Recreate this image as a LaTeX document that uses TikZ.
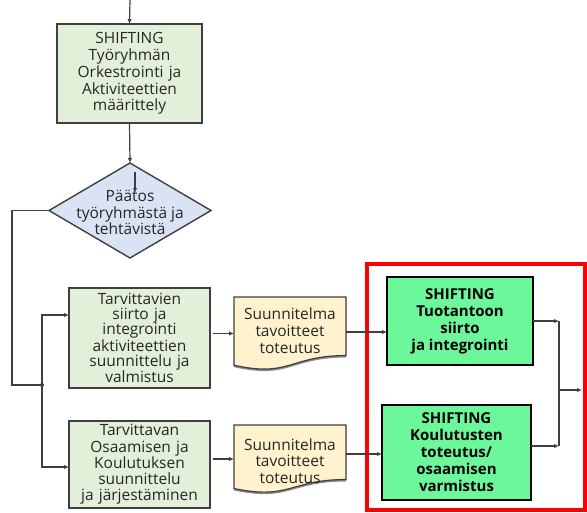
\documentclass[tikz,border=0pt]{standalone}
\usepackage{fontspec}
\setmainfont{Open Sans}
\usetikzlibrary{arrows.meta,shapes.geometric}
\definecolor{boxgreen}{HTML}{E2EFD9}
\definecolor{boxblue}{HTML}{DAE3F3}
\definecolor{docyellow}{HTML}{FFF2CC}
\definecolor{mint}{HTML}{6CF79A}
\definecolor{edgegray}{HTML}{3F3F3F}
\definecolor{framered}{HTML}{FF0000}

% document symbol with wavy lower edge: x, y (top left), width, height
\newcommand{\docpath}[4]{%
  (#1,#2) -- ({#1+#3},#2) -- ({#1+#3},{#2+0.802*#4})
  .. controls ({#1+0.5*#3},{#2+0.802*#4}) and ({#1+0.5*#3},{#2+1.107*#4}) ..
  (#1,{#2+0.934*#4}) -- cycle}

\begin{document}
\begin{tikzpicture}[x=1pt,y=-1pt,
  every node/.style={inner sep=0pt,outer sep=0pt},
  txt/.style={align=center,font=\fontsize{15.5}{16.8}\selectfont,text=black!85},
  plainbox/.style={draw=edgegray,line width=1.6pt,fill=boxgreen},
  mintbox/.style={draw=black,line width=2.8pt,fill=mint,align=center,
    font=\bfseries\fontsize{15}{17}\selectfont},
  flow/.style={draw=edgegray,line width=1.2pt,-{Latex[length=5pt,width=4.5pt]}},
  wire/.style={draw=edgegray,line width=1.2pt}]

\useasboundingbox (0,0) rectangle (587,512);

% highlighted group
\draw[framered,line width=3.5pt] (367,264) rectangle (585,510);

% top task and decision
\node[plainbox,txt,minimum width=145pt,minimum height=99pt,text width=140pt]
  (orch) at (129.5,73.5) {SHIFTING\\Työryhmän\\Orkestrointi ja\\Aktiviteettien\\määrittely};
\node[diamond,draw=edgegray,line width=1.4pt,fill=boxblue,
  minimum width=162pt,minimum height=95pt] (dec) at (130,210.5) {};
\node[txt] (dectext) at (130,212.5) {Päätos\\työryhmästä ja\\tehtävistä};

% planning tasks
\node[plainbox,txt,minimum width=141pt,minimum height=100pt,text width=138pt,
  font=\fontsize{15.5}{15.2}\selectfont]
  (plan1) at (139.5,338) {Tarvittavien\\siirto ja\\integrointi\\aktiviteettien\\suunnittelu ja\\valmistus};
\node[plainbox,txt,minimum width=141pt,minimum height=87pt,text width=138pt,
  font=\fontsize{15.5}{16.3}\selectfont]
  (plan2) at (139.5,464.5) {Tarvittavan\\Osaamisen ja\\Koulutuksen\\suunnittelu\\ja järjestäminen};

% plan documents
\fill[black!45] [yshift=-2pt] \docpath{234}{297}{112}{73};
\draw[edgegray,line width=1.2pt,fill=docyellow] \docpath{234}{297}{112}{73};
\node[minimum width=112pt,minimum height=73pt] (doc1) at (290,333.5) {};
\node[txt] (doc1text) at (290,330.5) {Suunnitelma\\tavoitteet\\toteutus};

\fill[black!45] [yshift=-2pt] \docpath{234}{425}{112}{68};
\draw[edgegray,line width=1.2pt,fill=docyellow] \docpath{234}{425}{112}{68};
\node[minimum width=112pt,minimum height=68pt] (doc2) at (290,459) {};
\node[txt] (doc2text) at (290,461) {Suunnitelma\\tavoitteet\\toteutus};

% execution tasks
\node[mintbox,minimum width=146pt,minimum height=88pt] (exec1) at (460,321)
  {SHIFTING\\Tuotantoon\\siirto\\ja integrointi};
\node[mintbox,minimum width=149pt,minimum height=95pt] (exec2) at (456.5,452.5)
  {SHIFTING\\Koulutusten\\toteutus/\\osaamisen\\varmistus};

% connectors
\coordinate (entry) at (130,0);
\draw[flow] (entry) -- (orch.north);
\draw[flow] (orch.south) -- (dec.north);
\coordinate (stubA) at (135,172);
\coordinate (stubB) at (135,193);
\draw[flow] (stubA) -- (stubB);

\coordinate (bendA) at (12,210.5);
\coordinate (bendB) at (12,385);
\coordinate (split) at (42,385);
\coordinate (toplan1) at (42,315);
\coordinate (toplan2) at (42,467);
\draw[wire] (dec.west) -- (bendA) -- (bendB) -- (split);
\fill[edgegray] (split) circle (2pt);
\draw[flow] (split) -- (toplan1) -- (toplan1 -| plan1.west);
\draw[flow] (split) -- (toplan2) -- (toplan2 -| plan2.west);

\draw[flow] ([xshift=3pt]doc1.west -| plan1.east) -- (doc1.west);
\draw[flow] ([xshift=3pt]doc2.west -| plan2.east) -- (doc2.west);

\coordinate (out1) at (346,332);
\coordinate (out2) at (346,454);
\draw[flow] (out1) -- (out1 -| exec1.west);
\draw[flow] (out2) -- (out2 -| exec2.west);

\coordinate (merge) at (559,390);
\coordinate (mergeTop) at (559,321);
\coordinate (mergeBot) at (559,446);
\coordinate (exit) at (582,390);
\draw[flow] (exec1.east) -- (mergeTop);
\draw[flow] (mergeBot -| exec2.east) -- (mergeBot);
\draw[wire] (mergeTop) -- (mergeBot);
\draw[flow] (merge) -- (exit);
\end{tikzpicture}
\end{document}
